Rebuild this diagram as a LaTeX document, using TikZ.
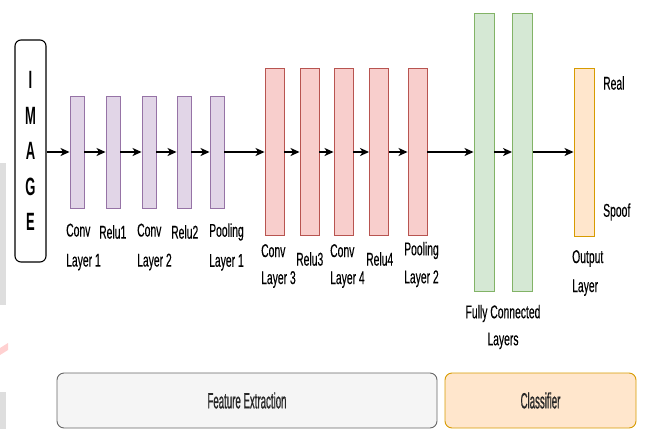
\documentclass[tikz,border=0pt]{standalone}
\usepackage{fontspec}
\setmainfont{Liberation Sans}
\newfontfamily\lbl{Liberation Sans}[FakeStretch=0.56,FakeBold=0.3]
\newfontfamily\bandfont{Liberation Sans}[FakeStretch=0.44,FakeBold=0.7]
\newfontfamily\imgfont{Liberation Sans}[FakeStretch=0.52]
\usetikzlibrary{arrows.meta}
\definecolor{pfill}{HTML}{E1D5E7}\definecolor{pdraw}{HTML}{9673A6}
\definecolor{rfill}{HTML}{F8CECC}\definecolor{rdraw}{HTML}{B85450}
\definecolor{gfill}{HTML}{D5E8D4}\definecolor{gdraw}{HTML}{82B366}
\definecolor{ofill}{HTML}{FFE6CC}\definecolor{odraw}{HTML}{D79B00}
\definecolor{sfill}{HTML}{F5F5F5}\definecolor{sdraw}{HTML}{666666}
\tikzset{
  layer/.style={rectangle, inner sep=0pt, line width=0.9pt},
  pbox/.style={layer, fill=pfill, draw=pdraw, minimum width=14pt, minimum height=112pt},
  rbox/.style={layer, fill=rfill, draw=rdraw, minimum width=19pt, minimum height=167pt},
  gbox/.style={layer, fill=gfill, draw=gdraw, minimum width=20pt, minimum height=278pt},
  obox/.style={layer, fill=ofill, draw=odraw, minimum width=20pt, minimum height=168pt},
  flow/.style={line width=1.3pt, -{Stealth[length=9pt,width=8pt,inset=2.5pt]}},
  lab/.style={inner sep=0pt, font=\lbl\fontsize{18.5}{30}\selectfont, align=left, anchor=west},
  labc/.style={lab, align=center, anchor=center},
  band/.style={rectangle, rounded corners=7pt, line width=0.9pt, inner sep=0pt, font=\bandfont\fontsize{22}{24}\selectfont, text=black!85}
}
\begin{document}
\begin{tikzpicture}[x=1pt,y=-1pt]
\useasboundingbox (0,0) rectangle (646,429);
% faint left-edge watermark fragments
\fill[black!13] (0,163) rectangle (6,305);
\fill[black!13] (0,392) rectangle (6,429);
\fill[red!18] (0,348) -- (8,343) -- (8,350) -- (0,355) -- cycle;
% image box
\node[rectangle, rounded corners=6pt, draw=black, line width=1.1pt, fill=white,
      minimum width=31pt, minimum height=222pt, inner sep=0pt,
      font=\imgfont\bfseries\fontsize{25}{35.5}\selectfont, align=center] (img) at (30.5,151)
      {I\\M\\A\\G\\E};
% purple
\node[pbox] (p1) at (77,152) {};
\node[pbox] (p2) at (113,152) {};
\node[pbox] (p3) at (149,152) {};
\node[pbox] (p4) at (184,152) {};
\node[pbox] (p5) at (217,152) {};
% red
\node[rbox] (r1) at (274.5,152) {};
\node[rbox] (r2) at (309.5,152) {};
\node[rbox] (r3) at (343.5,152) {};
\node[rbox] (r4) at (379,152) {};
\node[rbox] (r5) at (417.5,152) {};
% green
\node[gbox] (g1) at (484,152) {};
\node[gbox] (g2) at (522.5,152) {};
% output
\node[obox] (o1) at (584,152) {};
% arrows
\draw[flow] (img.east |- p1.west) -- (p1.west);
\draw[flow] (p1) -- (p2);
\draw[flow] (p2) -- (p3);
\draw[flow] (p3) -- (p4);
\draw[flow] (p4) -- (p5);
\draw[flow] (p5.east) -- (r1.west);
\draw[flow] (r1) -- (r2);
\draw[flow] (r2) -- (r3);
\draw[flow] (r3) -- (r4);
\draw[flow] (r4) -- (r5);
\draw[flow] (r5.east) -- (g1.west);
\draw[flow] (g1) -- (g2);
\draw[flow] (g2) -- (o1);
% labels purple
\node[lab] (lc1) at (66,247) {Conv\\Layer 1};
\node[lab] (lr1) at (99,232) {Relu1};
\node[lab] (lc2) at (137,247) {Conv\\Layer 2};
\node[lab] (lr2) at (171,232) {Relu2};
\node[lab] (lpl1) at (209,247) {Pooling\\Layer 1};
% labels red
\node[lab, font=\lbl\fontsize{18.5}{27}\selectfont] (lc3) at (261,266) {Conv\\Layer 3};
\node[lab] (lr3) at (296,259) {Relu3};
\node[lab, font=\lbl\fontsize{18.5}{27}\selectfont] (lc4) at (330,266) {Conv\\Layer 4};
\node[lab] (lr4) at (366,259) {Relu4};
\node[lab, font=\lbl\fontsize{18.5}{28}\selectfont] (lpl2) at (404,264.5) {Pooling\\Layer 2};
% labels right
\node[labc, font=\lbl\fontsize{18.5}{27}\selectfont] (lfc) at (503,327) {Fully Connected\\Layers};
\node[lab, font=\lbl\fontsize{18.5}{29}\selectfont] (lout) at (572,273) {Output\\Layer};
\node[lab] (lreal) at (603,83) {Real};
\node[lab] (lspoof) at (603,212) {Spoof};
% bottom bands
\node[band, fill=sfill, draw=sdraw, minimum width=380pt, minimum height=55pt] (fe) at (247,400.5) {Feature Extraction};
\node[band, fill=ofill, draw=odraw, minimum width=191pt, minimum height=55pt] (cl) at (540.5,400.5) {Classifier};
\end{tikzpicture}
\end{document}
